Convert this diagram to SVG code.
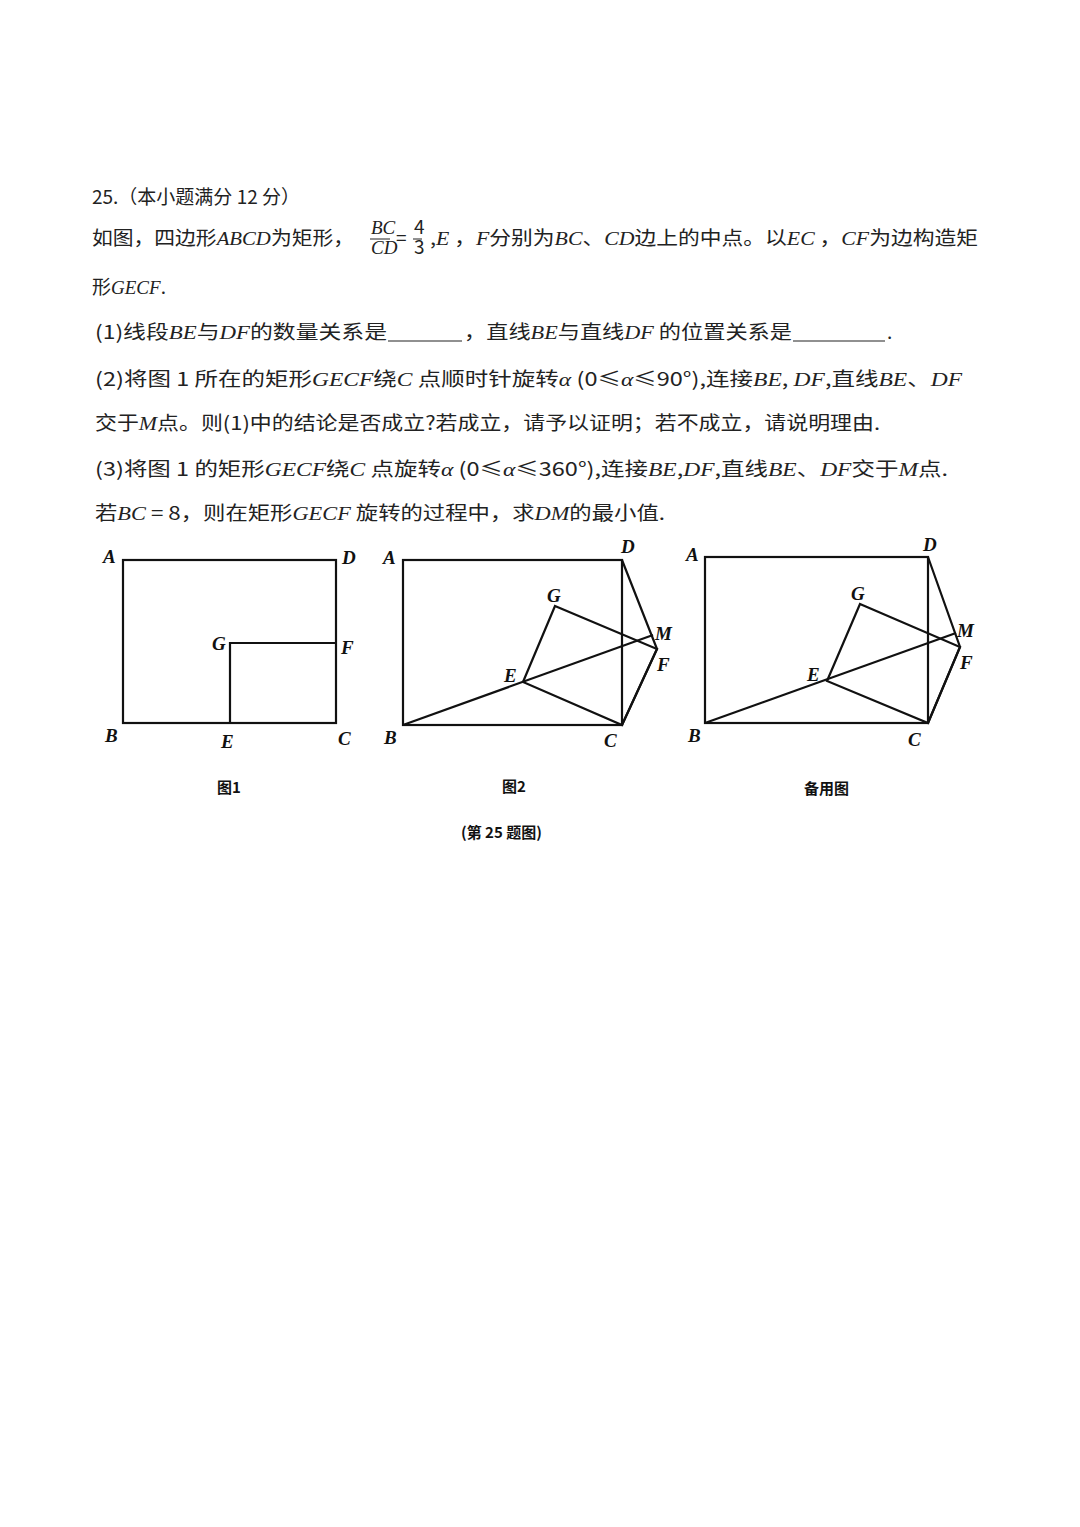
<svg xmlns="http://www.w3.org/2000/svg" width="1080" height="1527" viewBox="0 0 1080 1527">
<style>
.t{font-family:"Noto Sans CJK SC","Liberation Serif",sans-serif;font-size:19px;fill:#222}
.i{font-family:"Liberation Serif",serif;font-style:italic}
.l{font-family:"Liberation Serif",serif;font-style:italic;font-weight:bold;font-size:19px;fill:#111}
.c{font-family:"Noto Sans CJK SC",sans-serif;font-weight:bold;font-size:15px;fill:#111}
.s{stroke:#111;stroke-width:2.2;fill:none}
</style>
<rect width="1080" height="1527" fill="#fff"/>
<g id="text">
<text class="t" x="92" y="204">25.（本小题满分 12 分）</text>
<text class="t" x="92" y="245" textLength="262" lengthAdjust="spacingAndGlyphs">如图，四边形<tspan class="i">ABCD</tspan>为矩形，</text>
<text class="t" x="371" y="234" font-size="12"><tspan class="i">BC</tspan></text>
<line x1="370" y1="239" x2="390" y2="239" stroke="#222" stroke-width="1"/>
<text class="t" x="371" y="254" font-size="12"><tspan class="i">CD</tspan></text>
<text class="t" x="396" y="245">=</text>
<text class="t" x="414" y="234" font-size="12">4</text>
<line x1="413" y1="239" x2="422" y2="239" stroke="#222" stroke-width="1"/>
<text class="t" x="414" y="254" font-size="12">3</text>
<text class="t" x="430" y="245" textLength="548" lengthAdjust="spacingAndGlyphs">,<tspan class="i">E</tspan> ，<tspan class="i">F</tspan>分别为<tspan class="i">BC</tspan>、<tspan class="i">CD</tspan>边上的中点。以<tspan class="i">EC</tspan> ，<tspan class="i">CF</tspan>为边构造矩</text>
<text class="t" x="92" y="294">形<tspan class="i">GECF</tspan>.</text>
<text class="t" x="95" y="339" textLength="292" lengthAdjust="spacingAndGlyphs">(1)线段<tspan class="i">BE</tspan>与<tspan class="i">DF</tspan>的数量关系是</text>
<line x1="388" y1="341" x2="462" y2="341" stroke="#222" stroke-width="1.2"/>
<text class="t" x="464" y="339" textLength="328" lengthAdjust="spacingAndGlyphs">，直线<tspan class="i">BE</tspan>与直线<tspan class="i">DF</tspan> 的位置关系是</text>
<line x1="793" y1="341" x2="885" y2="341" stroke="#222" stroke-width="1.2"/>
<text class="t" x="887" y="339">.</text>
<text class="t" x="95" y="386" textLength="867" lengthAdjust="spacingAndGlyphs">(2)将图 1 所在的矩形<tspan class="i">GECF</tspan>绕<tspan class="i">C</tspan> 点顺时针旋转<tspan class="i">α</tspan> (0≤<tspan class="i">α</tspan>≤90°),连接<tspan class="i">BE</tspan>, <tspan class="i">DF</tspan>,直线<tspan class="i">BE</tspan>、<tspan class="i">DF</tspan></text>
<text class="t" x="95" y="430" textLength="785" lengthAdjust="spacingAndGlyphs">交于<tspan class="i">M</tspan>点。则(1)中的结论是否成立?若成立，请予以证明；若不成立，请说明理由.</text>
<text class="t" x="95" y="476" textLength="853" lengthAdjust="spacingAndGlyphs">(3)将图 1 的矩形<tspan class="i">GECF</tspan>绕<tspan class="i">C</tspan> 点旋转<tspan class="i">α</tspan> (0≤<tspan class="i">α</tspan>≤360°),连接<tspan class="i">BE</tspan>,<tspan class="i">DF</tspan>,直线<tspan class="i">BE</tspan>、<tspan class="i">DF</tspan>交于<tspan class="i">M</tspan>点.</text>
<text class="t" x="95" y="520" textLength="570" lengthAdjust="spacingAndGlyphs">若<tspan class="i">BC</tspan> = 8，则在矩形<tspan class="i">GECF</tspan> 旋转的过程中，求<tspan class="i">DM</tspan>的最小值.</text>
</g>
<g id="fig1">
<rect class="s" x="123" y="560" width="213" height="163"/>
<polyline class="s" points="230,723 230,643 336,643"/>
<text class="l" x="103" y="563">A</text><text class="l" x="342" y="564">D</text>
<text class="l" x="105" y="742">B</text><text class="l" x="221" y="748">E</text>
<text class="l" x="338" y="745">C</text><text class="l" x="212" y="650">G</text>
<text class="l" x="341" y="654">F</text>
<text class="c" x="217" y="793">图1</text>
</g>
<g id="fig2">
<rect class="s" x="403" y="560" width="219" height="165"/>
<polyline class="s" points="622,560 657,649 622,725"/>
<polygon class="s" points="555,606 657,649 622,725 523,682"/>
<line class="s" x1="403" y1="725" x2="653" y2="635"/>
<text class="l" x="383" y="564">A</text><text class="l" x="621" y="553">D</text>
<text class="l" x="384" y="744">B</text><text class="l" x="604" y="747">C</text>
<text class="l" x="547" y="602">G</text><text class="l" x="504" y="682">E</text>
<text class="l" x="655" y="640">M</text><text class="l" x="657" y="671">F</text>
<text class="c" x="502" y="792">图2</text>
</g>
<g id="fig3">
<rect class="s" x="705" y="557" width="223" height="166"/>
<polyline class="s" points="928,557 960,647 928,723"/>
<polygon class="s" points="860,604 960,647 928,723 827,681"/>
<line class="s" x1="705" y1="723" x2="956" y2="633"/>
<text class="l" x="686" y="561">A</text><text class="l" x="923" y="551">D</text>
<text class="l" x="688" y="742">B</text><text class="l" x="908" y="746">C</text>
<text class="l" x="851" y="600">G</text><text class="l" x="807" y="681">E</text>
<text class="l" x="957" y="637">M</text><text class="l" x="960" y="669">F</text>
<text class="c" x="804" y="794">备用图</text>
</g>
<text class="c" x="461" y="838">(第 25 题图)</text>
</svg>
